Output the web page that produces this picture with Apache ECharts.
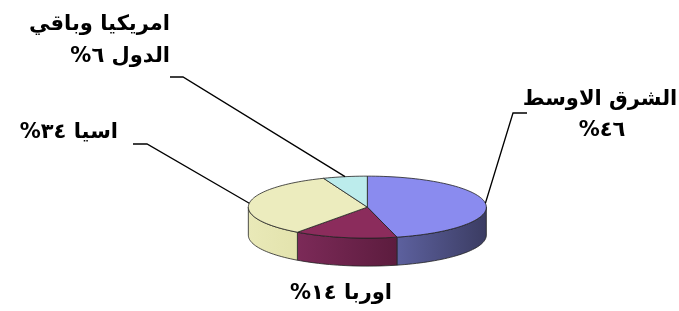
<!DOCTYPE html>
<html>
<head>
<meta charset="utf-8">
<script src="https://cdn.jsdelivr.net/npm/echarts@6/dist/echarts.min.js"></script>
<style>
  html, body { margin: 0; padding: 0; background: #fff; }
  #chart { width: 679px; height: 311px; }
</style>
</head>
<body>
<div id="chart" dir="rtl"></div>
<script>
// slice names and shares (percent), clockwise from 12 o'clock
const regions = ["الشرق الاوسط", "اوربا", "اسيا", "امريكيا وباقي الدول"];
const shares = [46, 14, 34, 6];

// label layout: elbow of the leader line, end of line, text anchor and lines
const labelLayout = [
  { elbow: [513, 113], end: [527, 113], text: [[600, 100, "الشرق الاوسط"], [602, 131, "٤٦%"]], align: "center" },
  { elbow: null, end: null, text: [[341, 294, "اوربا ١٤%"]], align: "center" },
  { elbow: [147, 144], end: [133, 144], text: [[118, 133, "اسيا ٣٤%"]], align: "right" },
  { elbow: [183, 77], end: [170, 77], text: [[170, 25, "امريكيا وباقي"], [170, 57, "الدول ٦%"]], align: "right" }
];
const topColors = ["#8a8bef", "#8b2c5c", "#ececbe", "#bcecec"];
const sideColors = [["#5d619f", "#3b3c62"], ["#7c2a58", "#5c1c3e"], ["#e9e9b8", "#e3e3ad"], ["#9bd0d0", "#8ac0c0"]];

const total = shares.reduce((a, b) => a + b, 0);
const starts = [];
let acc = 0;
shares.forEach((v) => { starts.push(acc / total * 360); acc += v; });

const chart = echarts.init(document.getElementById("chart"));

function renderSlice(params, api) {
  const i = params.dataIndex;
  const w = api.getWidth(), h = api.getHeight();
  const cx = w * 0.541, cy = h * 0.666, rx = 119, ry = 31, depth = 28;
  const a0 = starts[i];
  const a1 = a0 + api.value(0) / total * 360;
  // clockwise angle from top, on the flattened ellipse
  const pt = (deg, dy) => {
    const r = deg * Math.PI / 180;
    return [cx + rx * Math.sin(r), cy - ry * Math.cos(r) + (dy || 0)];
  };
  const arc = (from, to, dy) => {
    const pts = [];
    const n = Math.max(2, Math.ceil((to - from) / 2));
    for (let k = 0; k <= n; k++) pts.push(pt(from + (to - from) * k / n, dy));
    return pts;
  };
  const children = [];

  // front wall (visible between 90 and 270 degrees)
  const s0 = Math.max(a0, 90), s1 = Math.min(a1, 270);
  if (s1 > s0) {
    const topArc = arc(s0, s1, 0);
    const botArc = arc(s0, s1, depth).reverse();
    children.push({
      type: "polygon",
      z2: 1,
      shape: { points: topArc.concat(botArc) },
      style: {
        fill: new echarts.graphic.LinearGradient(0, 0, 1, 0, [
          { offset: 0, color: sideColors[i][0] },
          { offset: 1, color: sideColors[i][1] }
        ]),
        stroke: "#222",
        lineWidth: 0.8
      }
    });
  }

  // top face
  children.push({
    type: "polygon",
    z2: 2,
    shape: { points: [[cx, cy]].concat(arc(a0, a1, 0)) },
    style: { fill: topColors[i], stroke: "#222", lineWidth: 0.8 }
  });

  // leader line and label
  const lay = labelLayout[i];
  if (lay.elbow) {
    children.push({
      type: "polyline",
      z2: 3,
      shape: { points: [pt((a0 + a1) / 2, 0), lay.elbow, lay.end] },
      style: { stroke: "#000", lineWidth: 1.3, fill: null }
    });
  }
  lay.text.forEach((t) => {
    children.push({
      type: "text",
      z2: 4,
      x: t[0],
      y: t[1],
      style: {
        text: t[2],
        fill: "#000",
        font: "bold 21px 'DejaVu Sans', sans-serif",
        align: lay.align,
        verticalAlign: "middle"
      }
    });
  });

  return { type: "group", children: children };
}

const option = {
  animation: false,
  series: [
    {
      type: "custom",
      coordinateSystem: "none",
      data: shares.map((v, i) => ({ name: regions[i], value: [v] })),
      renderItem: renderSlice
    }
  ]
};
chart.setOption(option);
</script>
</body>
</html>
